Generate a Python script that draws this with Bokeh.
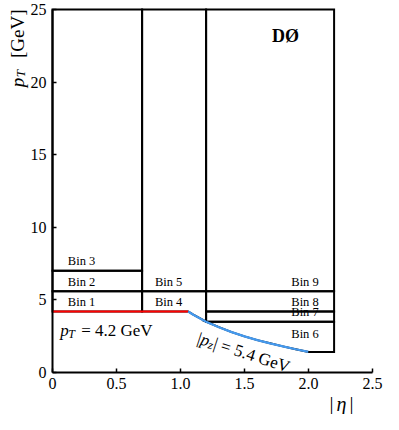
import math
import numpy as np
from bokeh.plotting import figure
from bokeh.models import Label, FixedTicker, Range1d
from bokeh.embed import file_html
from bokeh.resources import INLINE

# ---------------- data ----------------
bin_names = ["Bin 1", "Bin 2", "Bin 3", "Bin 4", "Bin 5", "Bin 6", "Bin 7", "Bin 8", "Bin 9"]
bin_eta_lo = [0.0, 0.0, 0.0, 0.7, 0.7, 1.2, 1.2, 1.2, 1.2]
bin_eta_hi = [0.7, 0.7, 0.7, 1.2, 1.2, 2.2, 2.2, 2.2, 2.2]
bin_pt_lo = [4.2, 5.6, 7.0, 0.0, 5.6, 0.0, 3.5, 4.2, 5.6]
bin_pt_hi = [5.6, 7.0, 25.0, 5.6, 25.0, 3.5, 4.2, 5.6, 25.0]

# acceptance: pT = 4.2 GeV (red) and |pz| = 5.4 GeV (blue)
pt_cut_eta = [0.0, 1.06]
pt_cut_pt = [4.2, 4.2]
pz_cut_eta = [1.06, 1.1, 1.2, 1.3, 1.4, 1.5, 1.6, 1.7, 1.8, 1.9, 2.0]
pz_cut_pt = [4.2, 3.98, 3.5, 3.12, 2.78, 2.49, 2.23, 2.01, 1.80, 1.60, 1.42]
edge_eta = [2.0, 2.2]
edge_pt = [1.42, 1.42]

x_ticks = [0, 0.5, 1.0, 1.5, 2.0, 2.5]
x_tick_labels = ["0", "0.5", "1.0", "1.5", "2.0", "2.5"]
y_ticks = [0, 5, 10, 15, 20, 25]
y_tick_labels = ["0", "5", "10", "15", "20", "25"]

SERIF = "Liberation Serif"

# ---------------- figure (frame covers the canvas; axes fixed at 0) ----------------
W, H = 383, 414
X0_PX, PX_PER_X = 52.0, 128.0      # screen x of eta=0, px per unit
Y0_PX, PX_PER_Y = 372.0, 14.52     # screen y of pT=0, px per unit

p = figure(width=W, height=H, output_backend="svg", toolbar_location=None,
           x_range=Range1d(-X0_PX / PX_PER_X, (W - X0_PX) / PX_PER_X),
           y_range=Range1d((Y0_PX - H) / PX_PER_Y, Y0_PX / PX_PER_Y),
           min_border=0, min_border_left=0, min_border_right=0,
           min_border_top=0, min_border_bottom=0)
p.grid.visible = False
p.outline_line_color = None
p.background_fill_color = "white"
p.border_fill_color = "white"

p.xaxis.fixed_location = 0
p.yaxis.fixed_location = 0
p.xaxis.bounds = (0, 2.5)
p.yaxis.bounds = (0, 25)

for ax in (p.xaxis[0], p.yaxis[0]):
    ax.axis_line_width = 2
    ax.axis_line_color = "black"
    ax.major_tick_in = 4
    ax.major_tick_out = 0
    ax.major_tick_line_width = 1.5
    ax.minor_tick_line_color = None
    ax.major_label_text_font = SERIF
    ax.major_label_text_font_size = "16px"
    ax.major_label_text_color = "black"

p.xaxis.ticker = FixedTicker(ticks=x_ticks)
p.xaxis.major_label_overrides = {t: l for t, l in zip(x_ticks, x_tick_labels)}
p.xaxis.major_label_standoff = 5
p.yaxis.ticker = FixedTicker(ticks=y_ticks)
p.yaxis.major_label_overrides = {t: l for t, l in zip(y_ticks, y_tick_labels)}
p.yaxis.major_label_standoff = 6

# ---------------- bins ----------------
boundary_eta = pt_cut_eta + pz_cut_eta[1:] + edge_eta[1:]
boundary_pt = pt_cut_pt + pz_cut_pt[1:] + edge_pt[1:]


def floor_at(e, lo):
    return max(lo, float(np.interp(e, boundary_eta, boundary_pt)))


xs, ys = [], []
for elo, ehi, plo, phi in zip(bin_eta_lo, bin_eta_hi, bin_pt_lo, bin_pt_hi):
    inner = [b for b in boundary_eta if elo < b < ehi]
    bottom_e = [ehi] + sorted(inner, reverse=True) + [elo]
    bx = [elo, ehi] + bottom_e
    by = [phi, phi] + [floor_at(e, plo) for e in bottom_e]
    xs.append(bx)
    ys.append(by)

p.patches(xs, ys, fill_color=None, line_color="black", line_width=2, line_join="miter")

p.line(pt_cut_eta, pt_cut_pt, line_color="#ff0000", line_width=2)
p.line(pz_cut_eta, pz_cut_pt, line_color="#4499ee", line_width=2.2)
p.line(edge_eta, edge_pt, line_color="black", line_width=2)

# ---------------- bin labels ----------------
for i, name in enumerate(bin_names):
    elo, ehi, plo, phi = bin_eta_lo[i], bin_eta_hi[i], bin_pt_lo[i], bin_pt_hi[i]
    if phi >= 25:
        ly = plo + (0.65 if elo == 0 else 0.6)
    elif plo == 0 and elo >= 1.2:
        ly = phi - 0.85
    else:
        ly = (max(plo, 4.2) + phi) / 2 - 0.05
    if elo >= 1.2:
        lx, align = ehi - 0.12, "right"
    else:
        lx, align = elo + (0.12 if elo == 0 else 0.1), "left"
    p.add_layout(Label(x=lx, y=ly, text=name, text_align=align, text_baseline="middle",
                       text_font=SERIF, text_font_size="12.5px", text_color="black"))

# ---------------- DØ ----------------
p.add_layout(Label(x=1.82, y=23.2, text="DØ", text_align="center", text_baseline="middle",
                   text_font=SERIF, text_font_size="18px", text_font_style="bold",
                   text_color="black"))

# ---------------- y axis label (p_T pinned at bottom, [GeV] pinned at top) ----------------
ylx, y_bottom, y_top = -0.27, 19.65, 25.0
p.add_layout(Label(x=ylx, y=y_bottom, text="p", angle=math.pi / 2, text_align="left",
                   text_baseline="alphabetic", text_font=SERIF, text_font_size="19px",
                   text_font_style="italic", text_color="black"))
p.add_layout(Label(x=ylx, y=y_bottom, text="T", angle=math.pi / 2, x_offset=3, y_offset=10,
                   text_align="left", text_baseline="alphabetic", text_font=SERIF,
                   text_font_size="13px", text_font_style="italic", text_color="black"))
p.add_layout(Label(x=ylx, y=y_top, text="[GeV]", angle=math.pi / 2,
                   text_align="right", text_baseline="alphabetic", text_font=SERIF,
                   text_font_size="19px", text_color="black"))

# ---------------- x axis label ----------------
xlx, xly = 2.258, -2.2
p.add_layout(Label(x=xlx, y=xly, text="η", text_align="center", text_baseline="alphabetic",
                   text_font=SERIF, text_font_size="20px", text_font_style="italic",
                   text_color="black"))
for off in (-10, 10):
    p.add_layout(Label(x=xlx, y=xly, text="|", x_offset=off, text_align="center",
                       text_baseline="alphabetic", text_font=SERIF, text_font_size="20px",
                       text_color="black"))

# ---------------- pT = 4.2 GeV ----------------
tx, ty = 0.06, 2.89
p.add_layout(Label(x=tx, y=ty, text="p", text_align="left", text_baseline="alphabetic",
                   text_font=SERIF, text_font_size="17px", text_font_style="italic",
                   text_color="black"))
p.add_layout(Label(x=tx, y=ty, text="T", x_offset=8, y_offset=-3, text_align="left",
                   text_baseline="alphabetic", text_font=SERIF, text_font_size="12px",
                   text_font_style="italic", text_color="black"))
p.add_layout(Label(x=tx, y=ty, text="= 4.2 GeV", x_offset=21, text_align="left",
                   text_baseline="alphabetic", text_font=SERIF, text_font_size="17px",
                   text_color="black"))

# ---------------- |pz| = 5.4 GeV (rotated) ----------------
theta = -math.radians(18)
ux, uy = math.cos(theta), math.sin(theta)
dx, dy = math.sin(theta), -math.cos(theta)
rx, ry = 1.136, 2.4


def piece(text, s, down, size, style):
    p.add_layout(Label(x=rx, y=ry, text=text, angle=theta,
                       x_offset=ux * s + dx * down, y_offset=uy * s + dy * down,
                       text_align="left", text_baseline="alphabetic", text_font=SERIF,
                       text_font_size=size, text_font_style=style, text_color="black"))


piece("|", 0, 0, "17px", "normal")
piece("p", 3.4, 0, "17px", "italic")
piece("z", 12.2, 3, "12px", "italic")
piece("| = 5.4 GeV", 17.2, 0, "17px", "normal")

open("out.html", "w").write(file_html(p, INLINE))
